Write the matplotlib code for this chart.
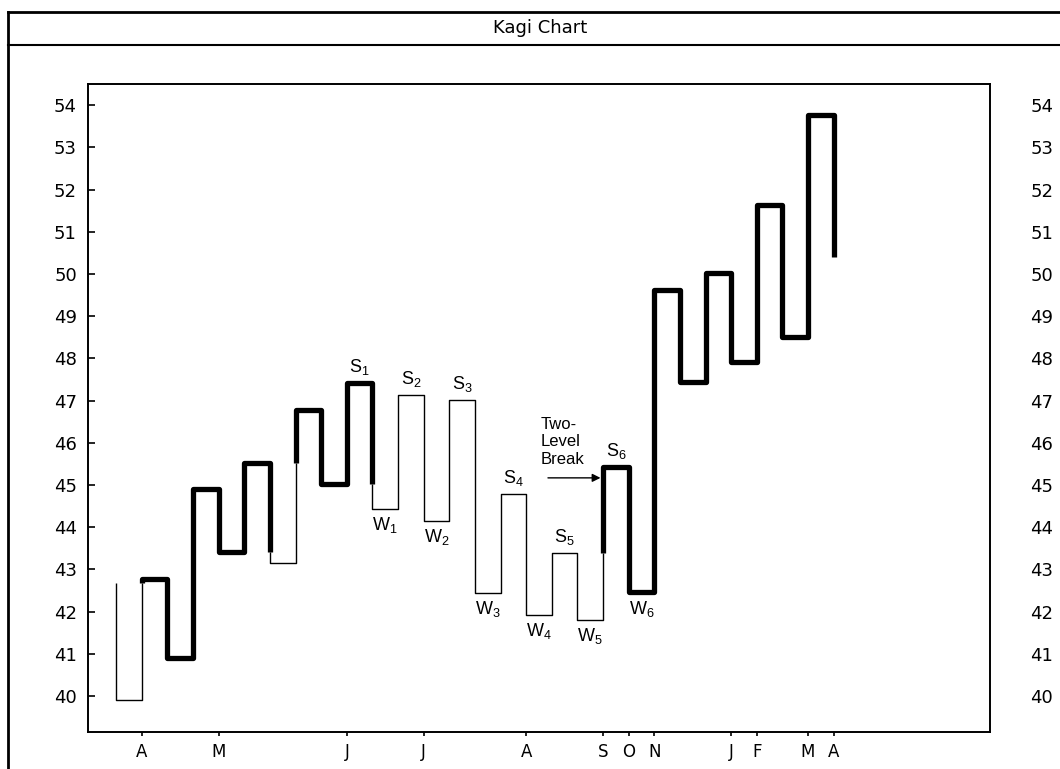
import matplotlib
matplotlib.use("Agg")
import matplotlib.pyplot as plt
from matplotlib.lines import Line2D

plt.rcParams['font.family'] = ['DejaVu Sans']
plt.rcParams['mathtext.default'] = 'regular'

# kagi turning points, one per vertical stroke (column 0..28)
kagi_vals = [42.68, 39.9, 42.77, 40.9, 44.9, 43.41, 45.52, 43.15, 46.78, 45.02,
             47.42, 44.43, 47.13, 44.15, 47.01, 42.44, 44.78, 41.92, 43.39, 41.8,
             45.43, 42.46, 49.62, 47.44, 50.02, 47.91, 51.63, 48.5, 53.77, 50.4]

month_cols = [1, 4, 9, 12, 16, 19, 20, 21, 24, 25, 27, 28]
month_labels = ['A', 'M', 'J', 'J', 'A', 'S', 'O', 'N', 'J', 'F', 'M', 'A']
yticks = list(range(40, 55))

# shoulder / waist labels: (column of the top or bottom segment, label)
shoulder_cols = [9, 11, 13, 15, 17, 19]
shoulder_names = ['S$_1$', 'S$_2$', 'S$_3$', 'S$_4$', 'S$_5$', 'S$_6$']
waist_cols = [10, 12, 14, 16, 18, 20]
waist_names = ['W$_1$', 'W$_2$', 'W$_3$', 'W$_4$', 'W$_5$', 'W$_6$']

break_level = 45.17


def kagi_runs(vals):
    # split the kagi line in thin (yin) and thick (yang) pieces
    runs = []
    state = 'thin'
    pts = [(0, vals[0])]
    shoulder, waist = vals[0], None
    n = len(vals) - 1
    for i in range(n):
        a, b = vals[i], vals[i + 1]
        split = None
        if b > a and state == 'thin' and b > shoulder:
            split = shoulder
        if b < a and state == 'thick' and waist is not None and b < waist:
            split = waist
        if split is not None:
            pts.append((i, split))
            runs.append((state, pts))
            state = 'thick' if state == 'thin' else 'thin'
            pts = [(i, split)]
        pts.append((i, b))
        if i < n - 1:
            pts.append((i + 1, b))
        if b > a:
            shoulder = b
        else:
            waist = b
    runs.append((state, pts))
    return runs


fig = plt.figure(figsize=(10.6, 7.69), dpi=100)
ax = fig.add_axes([88 / 1060, 1 - 732 / 769, (990 - 88) / 1060, (732 - 84) / 769])

for style, pts in kagi_runs(kagi_vals):
    xs = [p[0] for p in pts]
    ys = [p[1] for p in pts]
    lw = 3.8 if style == 'thick' else 1.0
    ax.plot(xs, ys, color='black', lw=lw, solid_joinstyle='round', solid_capstyle='butt')

lab_font = dict(family=['Liberation Sans', 'DejaVu Sans'], fontsize=13, ha='center')
for c, name in zip(shoulder_cols, shoulder_names):
    top = kagi_vals[c + 1]
    ax.text(c + 0.5, top + 0.15, name, va='bottom', **lab_font)
for c, name in zip(waist_cols, waist_names):
    bot = kagi_vals[c + 1]
    ax.text(c + 0.5, bot - 0.15, name, va='top', **lab_font)

ax.text(16.55, 46.02, 'Two-\nLevel\nBreak', ha='left', va='center',
        family=['Liberation Sans', 'DejaVu Sans'], fontsize=12, linespacing=1.2)
ax.annotate('', xy=(18.9, break_level), xytext=(16.85, break_level),
            arrowprops=dict(arrowstyle='-|>', color='black', lw=1.0,
                            mutation_scale=12, shrinkA=0, shrinkB=0))

ax.set_xlim(-1.1, 34.1)
ax.set_ylim(39.15, 54.5)
ax.set_yticks(yticks)
ax.set_xticks(month_cols)
ax.set_xticklabels(month_labels)

for s in ax.spines.values():
    s.set_linewidth(1.4)

ax.tick_params(axis='y', which='both', direction='in', length=5, width=1.2,
               left=True, right=True, labelleft=True, labelright=False,
               pad=8, labelsize=13)
ax.tick_params(axis='x', direction='out', length=3, width=1.2, pad=5, labelsize=12)

# right side labels sit far from the axis
ax2 = ax.twinx()
ax2.set_ylim(ax.get_ylim())
ax2.set_yticks(yticks)
ax2.tick_params(axis='y', direction='in', length=0, pad=29, labelsize=13)
for s in ax2.spines.values():
    s.set_visible(False)

# outer frame and title box
fig.add_artist(Line2D([8 / 1060, 1.0], [1 - 12 / 769, 1 - 12 / 769], color='black', lw=2))
fig.add_artist(Line2D([8 / 1060, 1.0], [1 - 45 / 769, 1 - 45 / 769], color='black', lw=1.5))
fig.add_artist(Line2D([8 / 1060, 8 / 1060], [0, 1 - 12 / 769], color='black', lw=2))
fig.text(540 / 1060, 1 - 28 / 769, 'Kagi Chart', ha='center', va='center', fontsize=13)

fig.savefig('out.png', dpi=100)
